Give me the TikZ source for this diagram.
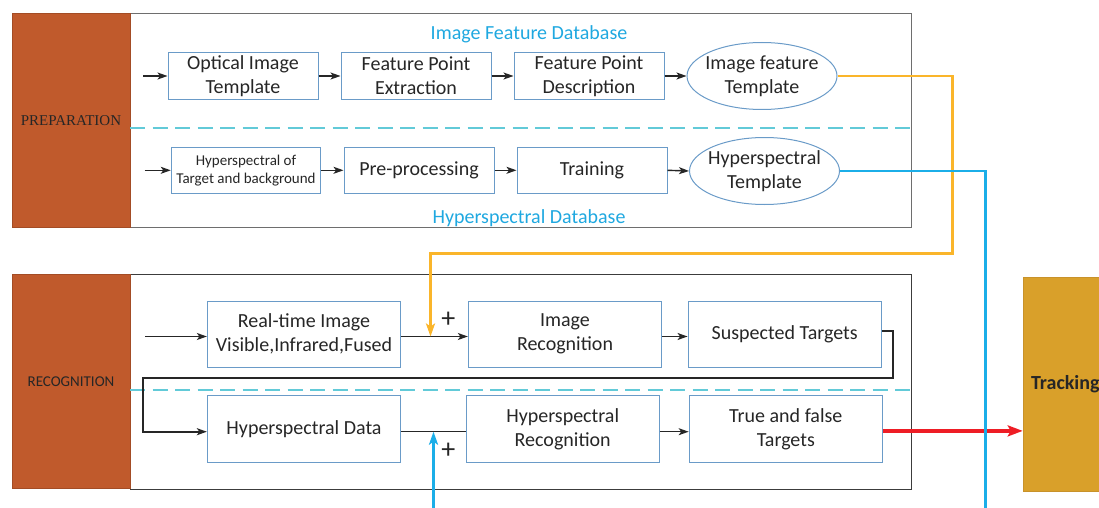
\documentclass[tikz,border=0pt]{standalone}
\usepackage{fontspec}
\setmainfont{Carlito}
\newfontfamily\timesfont{Liberation Serif}
\usetikzlibrary{arrows.meta,shapes.geometric}

\definecolor{rust}{HTML}{C05A2C}
\definecolor{frameblue}{HTML}{6A9BC8}
\definecolor{dbcyan}{HTML}{1FA8E0}
\definecolor{divcyan}{HTML}{62CAD8}
\definecolor{linkorange}{HTML}{FAB52A}
\definecolor{linkblue}{HTML}{1BAEE8}
\definecolor{linkred}{HTML}{EE1D25}
\definecolor{trackgold}{HTML}{D9A02A}
\definecolor{trackedge}{HTML}{C8922A}
\definecolor{framegray}{HTML}{6E6E6E}
\definecolor{ink}{HTML}{262626}

\tikzset{
  txt/.style={font=\fontsize{20}{24}\selectfont, text=ink, align=center},
  smalltxt/.style={font=\fontsize{15}{18}\selectfont, text=ink, align=center},
  plussign/.style={font=\fontsize{28}{28}\selectfont, text=ink, inner sep=0pt},
  stepbox/.style={txt, draw=frameblue, line width=1pt, inner sep=0pt},
  rowbox/.style={stepbox, minimum width=150pt, minimum height=46.5pt},
  recbox/.style={stepbox, minimum width=193.3pt, minimum height=66.3pt},
  oval/.style={ellipse, draw=frameblue, line width=1pt, minimum width=150pt, minimum height=67pt, inner sep=0pt},
  sidebar/.style={fill=rust, draw=rust!85!black, line width=0.4pt, minimum width=118.4pt, inner sep=0pt},
  frame/.style={draw=framegray, line width=1.1pt, inner sep=0pt},
  divider/.style={draw=divcyan, line width=2pt, dash pattern=on 15pt off 7.5pt},
  dbtitle/.style={font=\fontsize{20}{24}\selectfont, text=dbcyan},
  conn/.style={draw=ink, line width=1.4pt, -{Stealth[length=10pt,width=7pt,inset=2.5pt]}},
  plainconn/.style={draw=ink, line width=1.4pt},
  loopconn/.style={draw=ink, line width=1.8pt, -{Stealth[length=10pt,width=7pt,inset=2.5pt]}},
  orangelink/.style={draw=linkorange, line width=2.6pt, -{Stealth[length=13pt,width=9pt,inset=3pt]}},
  bluelink/.style={draw=linkblue, line width=2.6pt},
  bluearrow/.style={bluelink, -{Stealth[length=13pt,width=9pt,inset=3pt]}},
  redlink/.style={draw=linkred, line width=3.6pt, -{Stealth[length=15pt,width=11pt,inset=3pt]}},
  trackbox/.style={fill=trackgold, draw=trackedge, line width=0.8pt, font=\fontsize{20}{24}\selectfont\bfseries, text=ink},
}

\begin{document}
\begin{tikzpicture}[x=1pt,y=-1pt]
\useasboundingbox (0,0) rectangle (1099,508);
\clip (0,0) rectangle (1099,508);

% ---------- preparation stage ----------
\node[frame, anchor=north west, minimum width=781pt, minimum height=213.7pt] (prepframe) at (130,13.3) {};
\node[sidebar, anchor=north west, minimum height=213.7pt, font=\timesfont\fontsize{15}{18}\selectfont, text=ink] (prep) at (11.6,13.3) {PREPARATION};
\node[dbtitle] (imgdb) at (529,34.3) {Image Feature Database};
\node[dbtitle] (hsdb) at (529,218.3) {Hyperspectral Database};
\draw[divider] (prepframe.west |- 0,127.5) -- (prepframe.east |- 0,127.5);

\node[rowbox] (oit) at (243,76) {Optical Image\\Template};
\node[rowbox] (fpe) at (416,76) {Feature Point\\Extraction};
\node[rowbox] (fpd) at (589,76) {Feature Point\\Description};
\node[oval] (ift) at (762,76) {};
\node[txt] (iftt) at (ift.center) {Image feature\\Template};

\node[rowbox, smalltxt, minimum width=149.5pt] (hst) at (246,170.3) {Hyperspectral of\\Target and background};
\node[rowbox] (pre) at (419,170.3) {Pre-processing};
\node[rowbox] (trn) at (592,170.3) {Training};
\node[oval] (hsp) at (764.5,171) {};
\node[txt] (hspt) at (hsp.center) {Hyperspectral\\Template};

\coordinate (in1) at (143,76);
\coordinate (in2) at (144.6,170.3);
\draw[conn] (in1) -- (in1 -| oit.west);
\draw[conn] (oit.east) -- (fpe.west);
\draw[conn] (fpe.east) -- (fpd.west);
\draw[conn] (fpd.east) -- (ift.west);
\draw[conn] (in2) -- (in2 -| hst.west);
\draw[conn] (hst.east) -- (pre.west);
\draw[conn] (pre.east) -- (trn.west);
\draw[conn] (trn.east) -- (hsp.west);

% ---------- recognition stage ----------
\node[frame, draw=ink!90, anchor=north west, minimum width=781pt, minimum height=214.2pt] (recframe) at (130,274.3) {};
\node[sidebar, anchor=north west, minimum height=213.7pt, smalltxt] (recog) at (11.6,274.3) {RECOGNITION};
\draw[divider] (recframe.west |- 0,390) -- (recframe.east |- 0,390);

\node[recbox] (rti) at (304,334.2) {Real-time Image\\Visible,Infrared,Fused};
\node[recbox] (imr) at (565,334.2) {Image\\Recognition};
\node[recbox] (sus) at (784.7,334.2) {Suspected Targets};
\node[recbox] (hsd) at (304,428.9) {Hyperspectral Data};
\node[recbox] (hsr) at (562.7,428.9) {Hyperspectral\\Recognition};
\node[recbox] (tft) at (785.8,428.9) {True and false\\Targets};

\node[trackbox, anchor=north west, minimum height=214pt, text width=124pt, align=left, inner sep=8pt] (trk) at (1022.7,276.7) {Tracking};

\node[plussign] (plusa) at (448.3,320) {+};
\node[plussign] (plusb) at (448.3,450.7) {+};

\coordinate (in3) at (145,336.5);
\draw[conn] (in3) -- (in3 -| rti.west);
\draw[conn] ([yshift=-2.3pt]rti.east) -- ([yshift=-2.3pt]imr.west);
\draw[conn] ([yshift=-2.3pt]imr.east) -- ([yshift=-2.3pt]sus.west);

% feedback from suspected targets down to the hyperspectral row
\coordinate (lpa) at (893.3,378.3);
\coordinate (lpb) at (143.2,431.7);
\draw[loopconn, line join=miter] ([yshift=3.5pt]sus.east) -| (lpa) -| (lpb) -- (lpb -| hsd.west);

\draw[plainconn] ([yshift=-2.8pt]hsd.east) -- ([yshift=-2.8pt]hsr.west);
\draw[conn] ([yshift=-2.8pt]hsr.east) -- ([yshift=-2.8pt]tft.west);

\coordinate (rs) at ([yshift=-2pt]tft.east);
\draw[redlink] (rs) -- (rs -| trk.west);

% template feeds
\coordinate (oc) at (952.5,253.3);
\coordinate (oj) at (430.5,336.5);
\draw[orangelink] (ift.east) -| (oc) -| (oj);

\coordinate (bc) at (985.5,520);
\draw[bluelink] (hsp.east) -| (bc);
\coordinate (bs) at (433.5,520);
\coordinate (bj) at (433.5,431.7);
\draw[bluearrow] (bs) -- (bj);
\end{tikzpicture}
\end{document}
